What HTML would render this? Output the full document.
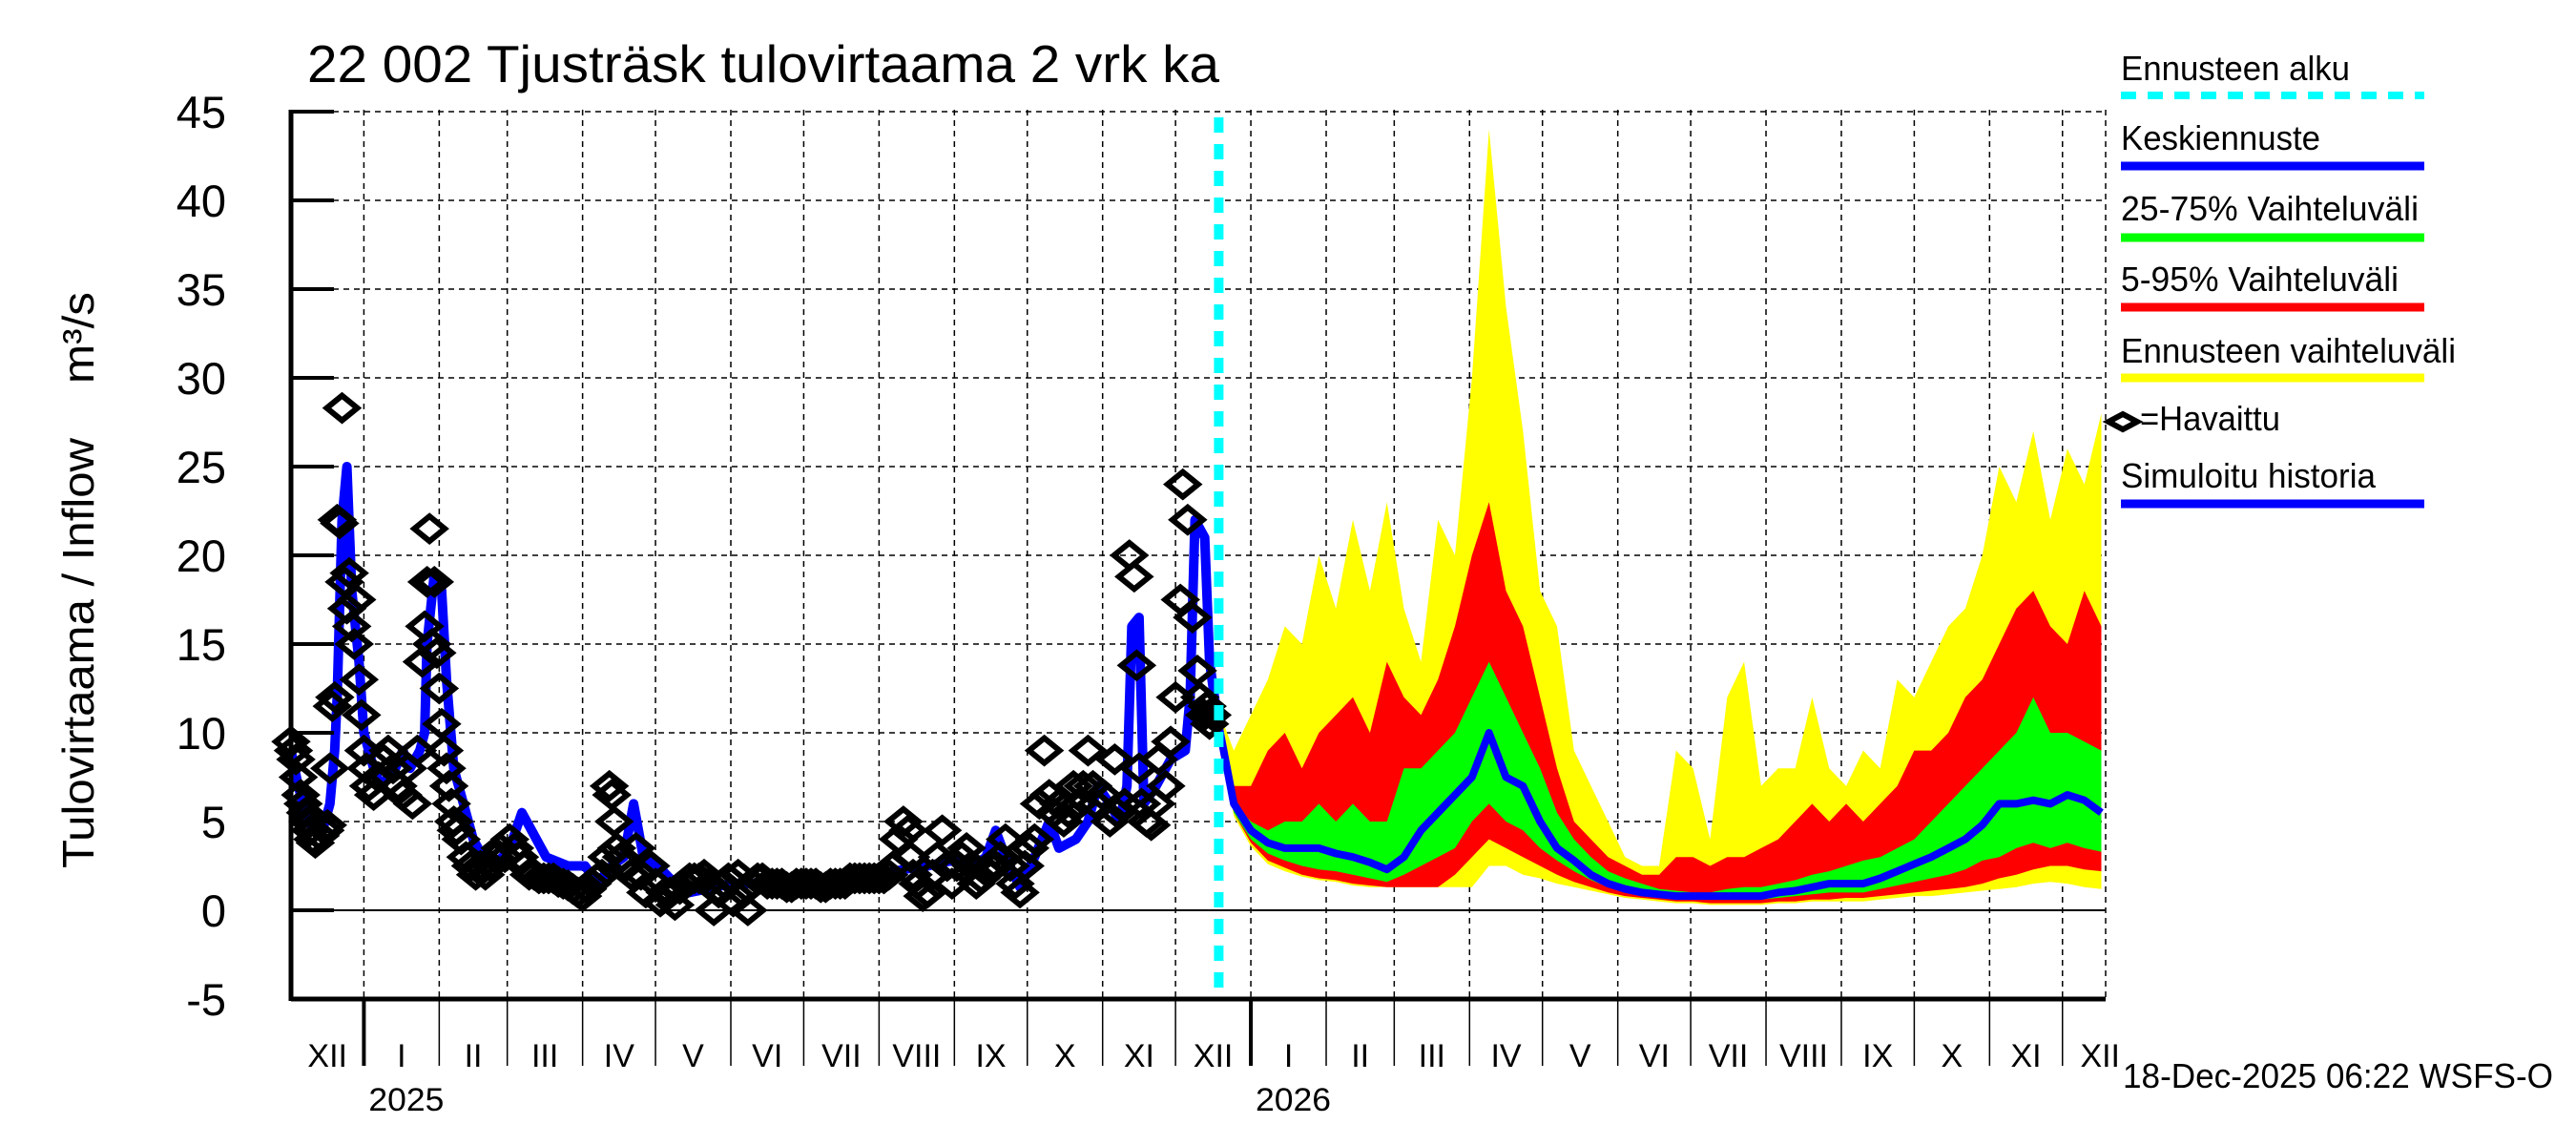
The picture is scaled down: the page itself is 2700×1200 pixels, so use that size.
<!DOCTYPE html>
<html><head><meta charset="utf-8"><style>
html,body{margin:0;padding:0;background:#fff;}
svg{display:block;}
text{font-family:"Liberation Sans",sans-serif;fill:#000;}
</style></head><body>
<svg id="chart" xmlns="http://www.w3.org/2000/svg" width="2700" height="1200" viewBox="0 0 2700 1200">
<rect x="0" y="0" width="2700" height="1200" fill="#fff"/>
<text x="322" y="86" font-size="55" textLength="956" lengthAdjust="spacingAndGlyphs">22 002 Tjusträsk tulovirtaama 2 vrk ka</text>
<text transform="translate(98,910) rotate(-90)" font-size="46" textLength="451" lengthAdjust="spacingAndGlyphs">Tulovirtaama / Inflow</text>
<text transform="translate(98,402) rotate(-90)" font-size="46" textLength="96" lengthAdjust="spacingAndGlyphs">m³/s</text>
<g id="grid"></g>
<g id="bands"></g>
<g id="series"></g>
<g id="axes"></g>
<g id="legend">
<text x="2223" y="84" font-size="36" textLength="240" lengthAdjust="spacingAndGlyphs">Ennusteen alku</text>
<line x1="2223" y1="100" x2="2541" y2="100" stroke="#00ffff" stroke-width="8" stroke-dasharray="16,12"/>
<text x="2223" y="157" font-size="36" textLength="209" lengthAdjust="spacingAndGlyphs">Keskiennuste</text>
<line x1="2223" y1="174" x2="2541" y2="174" stroke="#0000ff" stroke-width="9"/>
<text x="2223" y="231" font-size="36" textLength="312" lengthAdjust="spacingAndGlyphs">25-75% Vaihteluväli</text>
<line x1="2223" y1="249" x2="2541" y2="249" stroke="#00ff00" stroke-width="9"/>
<text x="2223" y="305" font-size="36" textLength="291" lengthAdjust="spacingAndGlyphs">5-95% Vaihteluväli</text>
<line x1="2223" y1="322" x2="2541" y2="322" stroke="#ff0000" stroke-width="9"/>
<text x="2223" y="380" font-size="36" textLength="351" lengthAdjust="spacingAndGlyphs">Ennusteen vaihteluväli</text>
<line x1="2223" y1="396" x2="2541" y2="396" stroke="#ffff00" stroke-width="9"/>
<polygon points="2210,442 2225,434 2240,442 2225,450" fill="none" stroke="#000" stroke-width="6"/>
<text x="2243" y="451" font-size="36" textLength="147" lengthAdjust="spacingAndGlyphs">=Havaittu</text>
<text x="2223" y="511" font-size="36" textLength="267" lengthAdjust="spacingAndGlyphs">Simuloitu historia</text>
<line x1="2223" y1="528" x2="2541" y2="528" stroke="#0000ff" stroke-width="9"/>
</g>
<text x="2225" y="1140" font-size="36" textLength="451" lengthAdjust="spacingAndGlyphs">18-Dec-2025 06:22 WSFS-O</text>
</svg>
<script>
// ---- data ----
var yTicks = [-5,0,5,10,15,20,25,30,35,40,45];
var monthNames = ["I","II","III","IV","V","VI","VII","VIII","IX","X","XI","XII"];
var forecastStartDay = 381;
// simulated history (days since 2 Dec 2024)
var simDays = [0,3,5,9,13,16,18,19,21,23,25,28,30,34,37,43,46,49,53,55,56,59,62,64,67,71,75,79,83,87,90,95,99,105,114,121,126,132,137,141,145,151,158,164,171,181,191,201,212,222,232,242,252,262,272,281,286,290,294,300,306,312,316,323,328,332,337,341,344,346,349,351,356,362,368,370,372,376,378,380,381];
var simVals = [9,7,6,4.5,4.5,6,9,12,22,25,18,14,10,8,7,8,9,8,9,10,15,19,18,13,8,6,4,3,2.5,3,3.5,5.5,4.5,3,2.5,2.5,1.5,2.5,3,6,3,2.5,1.5,1,1.2,1.5,1.5,1.2,1.3,1.3,1.5,2,2.3,2.5,2.8,2.5,3,4.5,3,1.3,3,5,3.5,4,5,7,6,5,7,16,16.5,6,7,8.5,9,12,22,21,14,12,11];
// observed
var obsDays = [0,1,2,3,4,5,6,7,8,9,10,12,14,15,16,17,18,19,20,21,22,23,24,25,26,27,28,29,30,31,32,34,36,38,40,42,44,46,48,50,52,54,55,56,57,58,59,60,61,62,63,64,65,66,67,68,70,72,74,76,78,80,82,84,86,88,90,92,94,96,98,100,102,104,106,108,110,112,114,116,118,120,122,124,126,128,130,131,132,133,134,136,138,140,142,144,146,148,150,152,154,156,158,160,162,164,166,168,170,172,174,176,178,180,182,184,186,188,190,192,194,196,198,200,202,204,206,208,210,212,214,216,218,220,222,224,226,228,230,232,234,236,238,240,242,244,246,248,250,252,254,255,256,258,260,262,264,266,268,270,272,274,276,278,280,282,284,286,288,290,292,294,296,298,300,302,304,306,308,310,312,314,316,318,320,322,324,326,328,330,331,334,337,339,340,343,345,347,348,349,350,352,354,356,357,360,362,364,366,367,369,371,373,374,376,377,378,379,380,381];
var obsVals = [9.5,9,8.5,7.5,6.5,6,5.5,5,4.5,4,3.8,4.2,4.5,4.8,8,11.5,12,22,21.8,28.3,18.5,17,19,16,15,17.5,13,11,9,8,7,6.5,7.5,8.5,9,8,7,6.5,8,6,9,14,16,18.5,21.5,15,18.5,14.5,12.5,10.5,9,8,7,6,5,4.5,4,3,2.5,2,2.5,2,2.5,3,3.5,3,4,3.5,3,2.5,2,2,1.8,1.8,1.8,1.8,1.6,1.5,1.4,1.2,1,0.8,1.2,1.5,1.8,2,3,7,6.5,5,3.5,3,2.5,2,3.5,2,1,2.5,1.5,0.5,1,1,0.3,1.2,1.5,1.8,1.8,1.8,2,1.5,0,1,1.5,1.8,0.5,2,1,0,1.5,1.8,1.8,1.5,1.5,1.5,1.5,1.3,1.3,1.5,1.5,1.5,1.5,1.5,1.3,1.3,1.5,1.5,1.5,1.5,1.8,1.8,1.8,1.8,1.8,1.8,1.8,1.8,2,2.5,4,5,4.5,3,2,1.5,0.8,1,2,3,4.5,2.5,1.5,2.5,3,3.5,2.5,1.5,1.8,2.2,2.5,2.5,3,4,2.5,1.5,1,2.5,3.5,4,6,9,6.5,5.5,6,5,5.5,7,6,7,9,7,6,6.5,5,8.5,5.5,6,20,18.8,13.8,8,6,5,4.8,6,8.5,7,9.5,12,17.5,24,22,16.5,13.5,12,11,11.5,10.5,11];
// forecast (days after forecast start, weekly)
var fcDays = [0,7,14,21,28,35,42,49,56,63,70,77,84,91,98,105,112,119,126,133,140,147,154,161,168,175,182,189,196,203,210,217,224,231,238,245,252,259,266,273,280,287,294,301,308,315,322,329,336,343,350,357,364];
var fcMax = [11.5,9,11,13,16,15,20,17,22,18,23,17,14,22,20,30,44,34,27,18,16,9,7,5,3,2.5,2.5,9,8,4,12,14,7,8,8,12,8,7,9,8,13,12,14,16,17,20,25,23,27,22,26,24,28];
var fcP95 = [11.3,7,7,9,10,8,10,11,12,10,14,12,11,13,16,20,23,18,16,12,8,5,4,3,2.5,2,2,3,3,2.5,3,3,3.5,4,5,6,5,6,5,6,7,9,9,10,12,13,15,17,18,16,15,18,16];
var fcP75 = [11.1,6,5,4.5,5,5,6,5,6,5,5,8,8,9,10,12,14,12,10,8,5.5,4,3,2.2,1.8,1.5,1.2,1.1,1,1,1.2,1.3,1.3,1.5,1.7,2,2.2,2.5,2.8,3,3.5,4,5,6,7,8,9,10,12,10,10,9.5,9];
var fcMed = [11,6,4.5,3.8,3.5,3.5,3.5,3.2,3,2.7,2.3,3,4.5,5.5,6.5,7.5,10,7.5,7,5,3.5,2.8,2,1.5,1.2,1,0.9,0.8,0.8,0.8,0.8,0.8,0.8,1,1.1,1.3,1.5,1.5,1.5,1.8,2.2,2.6,3,3.5,4,4.8,6,6,6.2,6,6.5,6.2,5.5];
var fcP25 = [10.9,5.5,4,3.2,2.8,2.5,2.3,2.2,2,1.8,1.6,2,2.5,3,3.5,5,6,5,4.5,3.5,2.8,2.2,1.7,1.3,1,0.8,0.7,0.6,0.6,0.6,0.6,0.6,0.6,0.7,0.8,0.9,1,1,1,1.2,1.4,1.6,1.8,2,2.3,2.8,3,3.5,3.8,3.5,3.8,3.5,3.3];
var fcP5 = [10.8,5.5,3.8,2.8,2.4,2,1.8,1.7,1.5,1.4,1.3,1.3,1.3,1.3,2,3,4,3.5,3,2.5,2,1.6,1.3,1,0.8,0.7,0.6,0.5,0.5,0.4,0.4,0.4,0.4,0.5,0.5,0.6,0.6,0.7,0.7,0.8,0.9,1,1.1,1.2,1.3,1.5,1.8,2,2.3,2.5,2.5,2.3,2.2];
var fcMin = [10.7,5.3,3.6,2.6,2.2,1.9,1.7,1.6,1.4,1.3,1.3,1.3,1.3,1.3,1.3,1.3,2.5,2.5,2,1.8,1.5,1.3,1.1,0.9,0.7,0.6,0.5,0.4,0.4,0.3,0.3,0.3,0.3,0.4,0.4,0.5,0.5,0.5,0.5,0.6,0.7,0.8,0.8,0.9,1,1.1,1.2,1.3,1.5,1.6,1.5,1.3,1.2];

// ---- scales ----
var X0 = 305, X1 = 2207, PXD = 2.547;
var Y0 = 954, PXV = 18.6;
var YTOP = 115, YBOT = 1047;
function xs(d){ return X0 + d * PXD; }
function ys(v){ return Y0 - v * PXV; }
var NS = "http://www.w3.org/2000/svg";
function mk(tag, parent, attrs){
  var e = document.createElementNS(NS, tag);
  for (var k in attrs) e.setAttribute(k, attrs[k]);
  parent.appendChild(e);
  return e;
}
var grid = document.getElementById('grid');
var bands = document.getElementById('bands');
var series = document.getElementById('series');
var axes = document.getElementById('axes');

// horizontal grid + y ticks
yTicks.forEach(function(v){
  var y = ys(v);
  if (v === 0) {
    var zl = mk('line', grid, {x1:X0, y1:y, x2:X1, y2:y, stroke:'#000', 'stroke-width':2});
    
    
  } else if (v !== -5) {
    var gl = mk('line', grid, {x1:X0, y1:y, x2:X1, y2:y, stroke:'#000', 'stroke-width':1.5, 'stroke-dasharray':'6,5'});
    
    
  }
  var tk = mk('line', axes, {x1:X0, y1:y, x2:X0+45, y2:y, stroke:'#000', 'stroke-width':4});
  
  
  var t = mk('text', axes, {x:237, y:y+17, 'font-size':47, 'text-anchor':'end'});
  t.textContent = String(v);
  
  
});

// months
var start = Date.UTC(2024, 11, 2);
function dayOf(y, m){ return (Date.UTC(y, m, 1) - start) / 86400000; }
var bounds = [];
for (var yy = 2024; yy <= 2027; yy++) {
  for (var mm = 0; mm < 12; mm++) {
    var d = dayOf(yy, mm);
    if (d > -40 && d < 800) bounds.push({d:d, y:yy, m:mm});
  }
}
bounds.forEach(function(b, i){
  var x = xs(b.d);
  if (b.d > 0 && x < X1) {
    var vl = mk('line', grid, {x1:x, y1:YTOP, x2:x, y2:YBOT, stroke:'#000', 'stroke-width':1.5, 'stroke-dasharray':'6,5'});
    
    
  }
  if (b.d >= 0 && x <= X1) {
    var yr = b.m === 0;
    var tk = mk('line', axes, {x1:x, y1:YBOT, x2:x, y2:1117, stroke:'#000', 'stroke-width': yr ? 4 : 1.5});
    
    
  }
  var nb = bounds[i+1];
  if (nb) {
    var a = Math.max(xs(b.d), X0), c = xs(nb.d);
    if (a < X1 && c > X0) {
      var lab = mk('text', axes, {x:(a+c)/2, y:1118, 'font-size':34, 'text-anchor':'middle'});
      lab.textContent = monthNames[b.m];
      
      
      if (b.m === 0) {
        var yl = mk('text', axes, {x:xs(b.d)+5, y:1164, 'font-size':34, textLength:79, lengthAdjust:'spacingAndGlyphs'});
        yl.textContent = String(b.y);
        
        
      }
    }
  }
});
// right edge dashed
var re = mk('line', grid, {x1:X1, y1:YTOP, x2:X1, y2:YBOT, stroke:'#000', 'stroke-width':1.5, 'stroke-dasharray':'6,5'});


var ax = mk('line', axes, {x1:X0, y1:YTOP, x2:X0, y2:YBOT+2, stroke:'#000', 'stroke-width':5});


var bx = mk('line', axes, {x1:X0, y1:YBOT, x2:X1, y2:YBOT, stroke:'#000', 'stroke-width':5});



// forecast bands
function band(up, lo, color, name){
  var pts = [];
  for (var i = 0; i < fcDays.length; i++) pts.push(xs(forecastStartDay+fcDays[i]).toFixed(1)+','+ys(up[i]).toFixed(1));
  for (var j = fcDays.length-1; j >= 0; j--) pts.push(xs(forecastStartDay+fcDays[j]).toFixed(1)+','+ys(lo[j]).toFixed(1));
  var p = mk('polygon', bands, {points:pts.join(' '), fill:color});
  
  
}
band(fcMax, fcMin, '#ffff00', 'forecast-range-band');
band(fcP95, fcP5, '#ff0000', 'band-5-95');
band(fcP75, fcP25, '#00ff00', 'band-25-75');
var mp = [];
for (var i = 0; i < fcDays.length; i++) mp.push(xs(forecastStartDay+fcDays[i]).toFixed(1)+','+ys(fcMed[i]).toFixed(1));
var med = mk('polyline', bands, {points:mp.join(' '), fill:'none', stroke:'#0000ff', 'stroke-width':8, 'stroke-linejoin':'round'});



// simulated history
var sp = [];
for (var k = 0; k < simDays.length; k++) sp.push(xs(simDays[k]).toFixed(1)+','+ys(simVals[k]).toFixed(1));
var sim = mk('polyline', series, {points:sp.join(' '), fill:'none', stroke:'#0000ff', 'stroke-width':10, 'stroke-linejoin':'round'});



// observations
for (var n = 0; n < obsDays.length; n++) {
  var cx = xs(obsDays[n]), cy = ys(obsVals[n]);
  var dm = mk('polygon', series, {points:(cx-16)+','+cy+' '+cx+','+(cy-13)+' '+(cx+16)+','+cy+' '+cx+','+(cy+13), fill:'none', stroke:'#000', 'stroke-width':6});
  
  
}

// forecast start line
var fs = mk('line', series, {x1:xs(forecastStartDay)+2, y1:YTOP+8, x2:xs(forecastStartDay)+2, y2:YBOT, stroke:'#00ffff', 'stroke-width':10, 'stroke-dasharray':'16,12'});


</script>
</body></html>
